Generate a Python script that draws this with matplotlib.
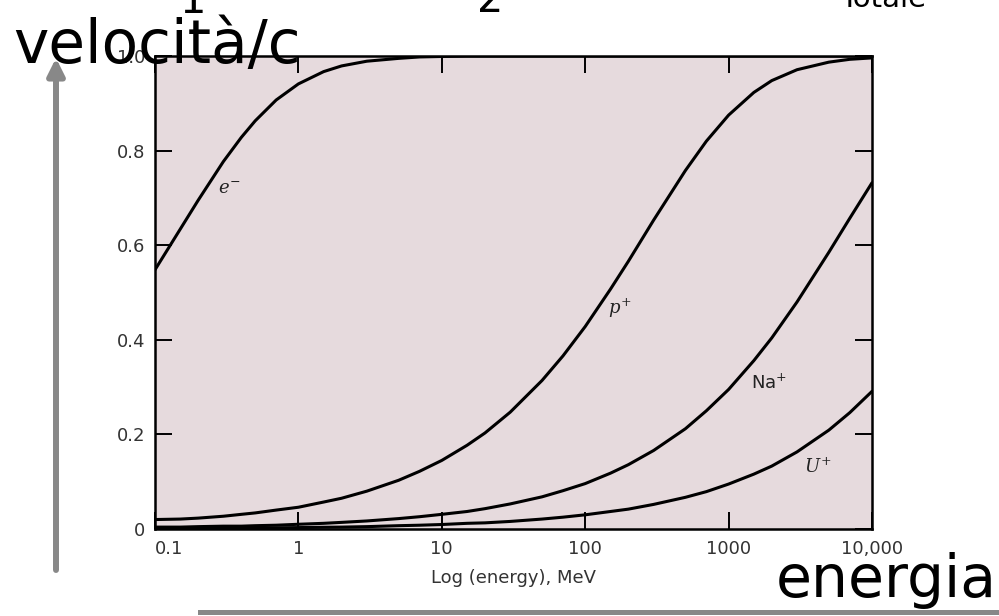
import matplotlib
matplotlib.use("Agg")
import matplotlib.pyplot as plt
from matplotlib.lines import Line2D
from matplotlib.ticker import NullLocator

# energia cinetica [MeV] e velocità/c
energy = [0.1, 0.15, 0.2, 0.3, 0.4, 0.5, 0.7, 1, 1.5, 2, 3, 5, 7, 10, 15, 20,
          30, 50, 70, 100, 150, 200, 300, 500, 700, 1000, 1500, 2000, 3000,
          5000, 7000, 10000]
v_e = [0.548, 0.634, 0.695, 0.777, 0.828, 0.863, 0.907, 0.941, 0.967, 0.979,
       0.989, 0.995, 0.998, 0.999, 1.0, 1.0, 1.0, 1.0, 1.0, 1.0,
       1.0, 1.0, 1.0, 1.0, 1.0, 1.0, 1.0, 1.0, 1.0, 1.0, 1.0, 1.0]
v_p = [0.020, 0.021, 0.023, 0.027, 0.031, 0.034, 0.040, 0.046, 0.057, 0.065,
       0.080, 0.103, 0.122, 0.145, 0.177, 0.203, 0.247, 0.314, 0.366, 0.428,
       0.507, 0.566, 0.653, 0.758, 0.820, 0.875, 0.923, 0.948, 0.971, 0.987,
       0.993, 0.996]
v_na = [0.004, 0.004, 0.005, 0.006, 0.006, 0.007, 0.008, 0.010, 0.012, 0.014,
        0.017, 0.022, 0.026, 0.031, 0.037, 0.043, 0.053, 0.068, 0.081, 0.096,
        0.118, 0.136, 0.166, 0.212, 0.250, 0.295, 0.356, 0.404, 0.480, 0.585,
        0.657, 0.732]
v_u = [0.001, 0.0012, 0.0015, 0.002, 0.002, 0.002, 0.0025, 0.003, 0.0037, 0.004,
       0.005, 0.007, 0.008, 0.0095, 0.012, 0.013, 0.016, 0.021, 0.025, 0.030,
       0.037, 0.042, 0.052, 0.067, 0.079, 0.095, 0.116, 0.133, 0.163, 0.209,
       0.246, 0.291]

curves = [v_e, v_p, v_na, v_u]
# etichette delle curve: (testo, energia, velocità)
labels = [(r"$e^{-}$", 0.33, 0.72),
          (r"$p^{+}$", 175, 0.467),
          (r"Na$^{+}$", 1914, 0.309),
          (r"$U^{+}$", 4198, 0.131)]

xticks = [0.1, 1, 10, 100, 1000, 10000]
xtick_labels = ["0.1", "1", "10", "100", "1000", "10,000"]
yticks = [0, 0.2, 0.4, 0.6, 0.8, 1.0]
ytick_labels = ["0", "0.2", "0.4", "0.6", "0.8", "1.0"]

W, H = 999, 616
fig = plt.figure(figsize=(W / 100, H / 100), dpi=100)
ax = fig.add_axes([155 / W, 1 - 529 / H, 717 / W, 473 / H])
ax.set_facecolor("#e6dadd")

for v in curves:
    ax.plot(energy, v, color="black", lw=2.2, solid_capstyle="round")

for txt, xe, yv in labels:
    if txt.startswith("Na"):
        ax.text(xe, yv, txt, fontsize=13, ha="center", va="center", color="#222")
    else:
        ax.text(xe, yv, txt, fontsize=13, ha="center", va="center",
                color="#222", math_fontfamily="dejavuserif")

ax.set_xscale("log")
ax.set_xlim(0.1, 10000)
ax.set_ylim(0, 1)
ax.set_xticks(xticks)
ax.set_xticklabels(xtick_labels)
ax.set_yticks(yticks)
ax.set_yticklabels(ytick_labels)
ax.xaxis.set_minor_locator(NullLocator())
ax.tick_params(direction="in", length=12, width=1.4, top=True, right=True,
               labelsize=13, labelcolor="#333")
ax.tick_params(axis="x", pad=8)
ax.tick_params(axis="y", pad=7)
ax.get_xticklabels()[0].set_ha("left")
for s in ax.spines.values():
    s.set_linewidth(1.8)
ax.set_xlabel("Log (energy), MeV", fontsize=13, color="#333", labelpad=8)

# frecce grigie
ax.annotate("", xy=(56, H - 58), xycoords="figure pixels",
            xytext=(56, H - 570), textcoords="figure pixels",
            annotation_clip=False,
            arrowprops=dict(arrowstyle="-|>,head_length=0.5,head_width=0.25",
                            mutation_scale=20, lw=4.3, color="#888888",
                            shrinkA=0, shrinkB=0))
fig.add_artist(Line2D([200 / W, 1.01], [1 - 612 / H] * 2, transform=fig.transFigure,
                      lw=3.6, color="#888888"))

fig.text(13 / W, 1 - 63 / H, "velocità/c", fontsize=43, ha="left", va="baseline")
fig.text(997 / W, 1 - 597 / H, "energia", fontsize=42, ha="right", va="baseline")

# testo tagliato in alto
fig.text(193 / W, 1 - 13 / H, "1", fontsize=30, ha="center", va="baseline")
fig.text(490 / W, 1 - 12 / H, "2", fontsize=30, ha="center", va="baseline")
fig.text(840 / W, 1 - 7 / H, "Totale", fontsize=21, ha="left", va="baseline")

fig.savefig("out.png", dpi=100)
